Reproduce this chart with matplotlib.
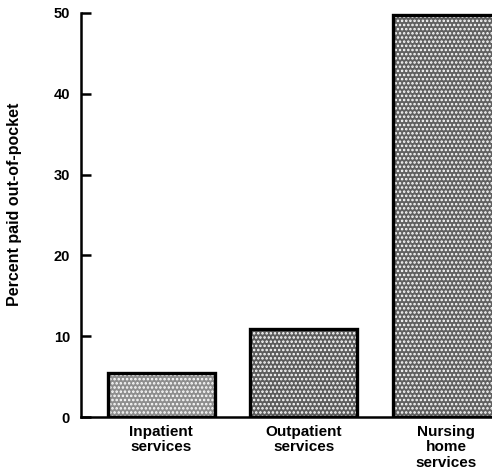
import matplotlib
matplotlib.use("Agg")
import matplotlib.pyplot as plt

categories = ["Inpatient\nservices", "Outpatient\nservices", "Nursing\nhome\nservices"]
values = [5.4, 10.9, 49.7]
yticks = [0, 10, 20, 30, 40, 50]
shades = ["#8e8e8e", "#5c5c5c", "#606060"]

plt.rcParams["font.family"] = ["Liberation Sans", "DejaVu Sans"]
plt.rcParams["hatch.linewidth"] = 1.2

fig = plt.figure(figsize=(4.92, 4.75), dpi=100)
ax = fig.add_axes([0.165, 0.122, 0.835, 0.851])

x = list(range(len(values)))
# stippled fill, then a heavy black outline on top
ax.bar(x, values, width=0.75, color=shades, edgecolor="white",
       hatch="....", linewidth=0, zorder=2)
ax.bar(x, values, width=0.75, fill=False, edgecolor="black",
       linewidth=2.4, zorder=3)

ax.set_xlim(-0.563, 2.324)
ax.set_ylim(0, 50)
ax.set_yticks(yticks)
ax.set_yticklabels([str(t) for t in yticks], fontsize=10.5, fontweight="bold")
ax.tick_params(axis="y", direction="in", length=7, width=1.8, pad=8)
ax.set_xticks(x)
ax.set_xticklabels(categories, fontsize=11, fontweight="bold",
                   linespacing=1.1)
ax.tick_params(axis="x", length=0, pad=6)

for side in ["top", "right"]:
    ax.spines[side].set_visible(False)
ax.spines["left"].set_linewidth(1.8)
ax.spines["bottom"].set_linewidth(1.8)

ax.set_ylabel("Percent paid out-of-pocket", fontsize=11.5, fontweight="bold")
ax.yaxis.set_label_coords(-0.143, 0.527)

fig.savefig("out.png", dpi=100)
